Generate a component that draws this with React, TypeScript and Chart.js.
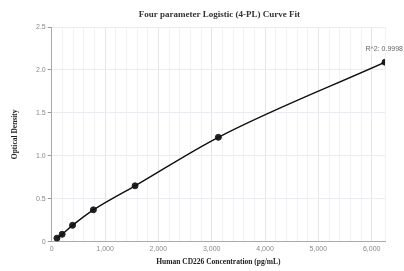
import React, { useEffect, useRef } from "react";
import { Chart, registerables } from "chart.js";

Chart.register(...registerables);

const concentrations = [97.66, 195.3, 390.6, 781.25, 1562.5, 3125, 6250];
const odValues = [0.04, 0.085, 0.19, 0.37, 0.65, 1.215, 2.09];
const r2Label = "R^2: 0.9998";
const chartTitle = "Four parameter Logistic (4-PL) Curve Fit";
const xTitle = "Human CD226 Concentration (pg/mL)";
const yTitle = "Optical Density";

const serif = "'Liberation Serif', 'Times New Roman', serif";
const sans = "'Liberation Sans', Arial, sans-serif";

const extrasPlugin = {
  id: "extras",
  afterDraw(chart: any) {
    const ctx = chart.ctx;
    const area = chart.chartArea;
    ctx.save();
    ctx.font = `bold 9px ${serif}`;
    ctx.fillStyle = "#333";
    ctx.textAlign = "center";
    ctx.textBaseline = "middle";
    ctx.fillText(chartTitle, (area.left + area.right) / 2 + 1, 15);
    const meta = chart.getDatasetMeta(1);
    const last = meta.data[meta.data.length - 1];
    if (last) {
      ctx.font = `7px ${sans}`;
      ctx.fillStyle = "#666";
      ctx.textAlign = "right";
      ctx.textBaseline = "bottom";
      ctx.fillText(r2Label, Math.min(last.x + 18, chart.width - 1), last.y - 10);
    }
    ctx.restore();
  },
};

export default function App() {
  const ref = useRef<HTMLCanvasElement>(null);
  useEffect(() => {
    document.body.style.margin = "0";
    const pts = concentrations.map((x, i) => ({ x, y: odValues[i] }));
    const chart = new Chart(ref.current!, {
      type: "scatter",
      data: {
        datasets: [
          {
            type: "line",
            data: pts,
            borderColor: "#111",
            borderWidth: 1.5,
            pointRadius: 0,
            cubicInterpolationMode: "monotone",
            fill: false,
          } as any,
          {
            data: pts,
            backgroundColor: "#222",
            borderColor: "#222",
            pointRadius: 3,
          },
        ],
      },
      options: {
        animation: false,
        responsive: false,
        layout: { padding: { right: 19, top: 27, left: 11, bottom: 4 } },
        plugins: {
          legend: { display: false },
          tooltip: { enabled: false },
          title: { display: false },
        },
        scales: {
          x: {
            type: "linear",
            min: 0,
            max: 6250,
            ticks: {
              stepSize: 200,
              autoSkip: false,
              maxRotation: 0,
              color: "#888",
              font: { family: sans, size: 7 },
              padding: 3,
              callback: (v: any) => (v % 1000 === 0 ? Number(v).toLocaleString("en-US") : ""),
            },
            grid: {
              color: (c: any) => (c.tick && c.tick.value % 1000 === 0 ? "#e6e6e6" : "#f2f2f2"),
              drawTicks: false,
            },
            border: { color: "#aaa" },
            title: {
              display: true,
              text: xTitle,
              color: "#222",
              font: { family: serif, size: 7.5, weight: "bold" },
              padding: { top: 2, bottom: 0 },
            },
          },
          y: {
            min: 0,
            max: 2.5,
            ticks: {
              stepSize: 0.5,
              color: "#888",
              font: { family: sans, size: 7 },
              padding: 2,
            },
            grid: {
              color: "#e9edf2",
              tickLength: 4,
              tickColor: "#999",
            } as any,
            border: { color: "#aaa" },
            title: {
              display: true,
              text: yTitle,
              color: "#222",
              font: { family: serif, size: 7.5, weight: "bold" },
              padding: { top: 0, bottom: 14 },
            },
          },
        },
      },
      plugins: [extrasPlugin],
    });
    return () => chart.destroy();
  }, []);
  return (
    <div style={{ width: 404, height: 271 }}>
      <canvas ref={ref} width={404} height={271} />
    </div>
  );
}
